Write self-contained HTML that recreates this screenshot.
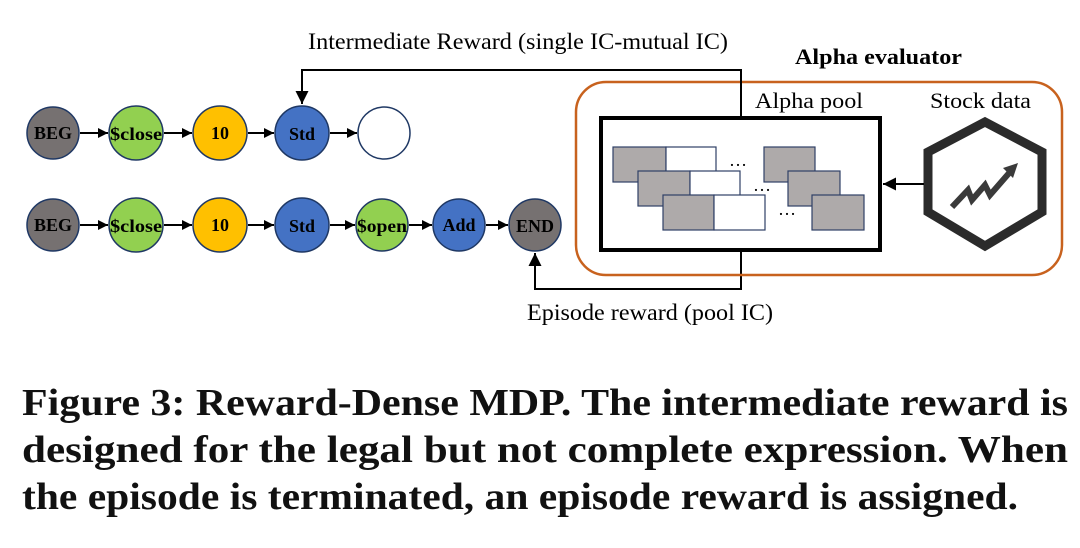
<!DOCTYPE html>
<html><head><meta charset="utf-8"><style>
html,body{margin:0;padding:0;background:#fff;}
svg{display:block;}
</style></head><body>
<svg width="1080" height="548" viewBox="0 0 1080 548" xmlns="http://www.w3.org/2000/svg">
<defs>
<marker id="a" viewBox="0 0 10 10" refX="10" refY="5" markerWidth="10" markerHeight="10" markerUnits="userSpaceOnUse" orient="auto"><path d="M0,0L10,5L0,10z" fill="#000"/></marker>
<marker id="b" viewBox="0 0 10 10" refX="10" refY="5" markerWidth="13" markerHeight="13" markerUnits="userSpaceOnUse" orient="auto"><path d="M0,0L10,5L0,10z" fill="#000"/></marker>
</defs>
<g font-family="Liberation Serif, serif">
<text x="308" y="49" font-size="23" textLength="420" lengthAdjust="spacingAndGlyphs">Intermediate Reward (single IC-mutual IC)</text>
<text x="795" y="64" font-size="22" font-weight="bold" textLength="167" lengthAdjust="spacingAndGlyphs">Alpha evaluator</text>
<text x="527" y="320" font-size="23" textLength="246" lengthAdjust="spacingAndGlyphs">Episode reward (pool IC)</text>
</g>
<polyline points="741,117 741,70 302,70 302,104" fill="none" stroke="#000" stroke-width="2" marker-end="url(#b)"/>
<polyline points="741,251 741,289 535,289 535,253" fill="none" stroke="#000" stroke-width="2" marker-end="url(#b)"/>
<rect x="576" y="82" width="486" height="193" rx="30" fill="none" stroke="#c8621e" stroke-width="2.5"/>
<rect x="601" y="118" width="279" height="132" fill="#fff" stroke="#000" stroke-width="4"/>
<line x1="741" y1="70" x2="741" y2="116" stroke="#000" stroke-width="2"/>
<g font-family="Liberation Serif, serif" font-size="22">
<text x="755" y="108" textLength="108" lengthAdjust="spacingAndGlyphs">Alpha pool</text>
<text x="930" y="108" textLength="101" lengthAdjust="spacingAndGlyphs">Stock data</text>
</g>
<g stroke="#2f3f66" stroke-width="1.2">
<rect x="613" y="147" width="53" height="35" fill="#aeaaaa"/><rect x="666" y="147" width="50" height="35" fill="#fff"/>
<rect x="638" y="171" width="52" height="35" fill="#aeaaaa"/><rect x="690" y="171" width="50" height="35" fill="#fff"/>
<rect x="663" y="195" width="51" height="35" fill="#aeaaaa"/><rect x="714" y="195" width="51" height="35" fill="#fff"/>
<rect x="764" y="147" width="51" height="35" fill="#aeaaaa"/>
<rect x="788" y="171" width="52" height="35" fill="#aeaaaa"/>
<rect x="812" y="195" width="52" height="35" fill="#aeaaaa"/>
</g>
<g font-family="Liberation Serif, serif" font-size="18">
<text x="729" y="166">…</text><text x="753" y="191">…</text><text x="778" y="215">…</text>
</g>
<polygon points="985,122 1042,152 1042,212 985,246 928,212 928,152" fill="#fff" stroke="#2b2b2b" stroke-width="9"/>
<polyline points="952,207 968,190 972,200 985,185 990,195 1010,172" fill="none" stroke="#3a3a3a" stroke-width="6"/>
<polygon points="1018,163 1003,168 1013,178" fill="#3a3a3a"/>
<line x1="924" y1="184" x2="883" y2="184" stroke="#000" stroke-width="2" marker-end="url(#b)"/>
<g stroke="#1f3864" stroke-width="1.5">
<circle cx="53" cy="133" r="26" fill="#767171"/>
<circle cx="136" cy="133" r="27" fill="#92d050"/>
<circle cx="220" cy="133" r="27" fill="#ffc000"/>
<circle cx="302" cy="133" r="27" fill="#4472c4"/>
<circle cx="384" cy="133" r="26" fill="#fff"/>
<circle cx="53" cy="225" r="26" fill="#767171"/>
<circle cx="136" cy="225" r="27" fill="#92d050"/>
<circle cx="220" cy="225" r="27" fill="#ffc000"/>
<circle cx="302" cy="225" r="27" fill="#4472c4"/>
<circle cx="382" cy="225" r="26" fill="#92d050"/>
<circle cx="459" cy="225" r="26" fill="#4472c4"/>
<circle cx="535" cy="225" r="26" fill="#767171"/>
</g>
<g stroke="#000" stroke-width="2" marker-end="url(#a)">
<line x1="80" y1="133" x2="108" y2="133"/><line x1="164" y1="133" x2="192" y2="133"/><line x1="248" y1="133" x2="274" y2="133"/><line x1="330" y1="133" x2="357" y2="133"/>
<line x1="80" y1="225" x2="108" y2="225"/><line x1="164" y1="225" x2="192" y2="225"/><line x1="248" y1="225" x2="274" y2="225"/><line x1="330" y1="225" x2="355" y2="225"/><line x1="409" y1="225" x2="432" y2="225"/><line x1="486" y1="225" x2="508" y2="225"/>
</g>
<g font-family="Liberation Serif, serif" font-size="18" font-weight="bold" text-anchor="middle" fill="#000">
<text x="53" y="139">BEG</text><text x="136" y="140" textLength="52" lengthAdjust="spacingAndGlyphs">$close</text><text x="220" y="139">10</text><text x="302" y="140">Std</text>
<text x="53" y="231">BEG</text><text x="136" y="232" textLength="52" lengthAdjust="spacingAndGlyphs">$close</text><text x="220" y="231">10</text><text x="302" y="232">Std</text><text x="382" y="232" textLength="50" lengthAdjust="spacingAndGlyphs">$open</text><text x="459" y="231">Add</text><text x="535" y="232" textLength="38" lengthAdjust="spacingAndGlyphs">END</text>
</g>
<g font-family="Liberation Serif, serif" font-size="38" font-weight="bold" fill="#111">
<text x="22" y="415" textLength="1046" lengthAdjust="spacingAndGlyphs">Figure 3: Reward-Dense MDP. The intermediate reward is</text>
<text x="22" y="462" textLength="1046" lengthAdjust="spacingAndGlyphs">designed for the legal but not complete expression. When</text>
<text x="22" y="509" textLength="996" lengthAdjust="spacingAndGlyphs">the episode is terminated, an episode reward is assigned.</text>
</g>
</svg>
</body></html>
